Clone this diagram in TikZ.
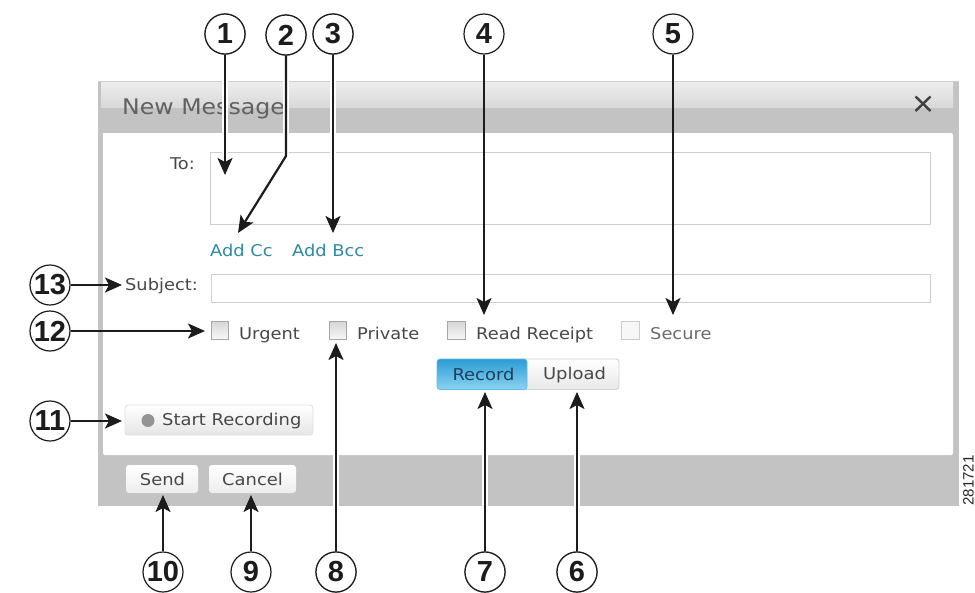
\documentclass[tikz,border=0pt]{standalone}
\usepackage{fontspec}
\setmainfont{DejaVu Sans}[FakeStretch=1.1]
\newfontfamily\numfont{Liberation Sans}
\usetikzlibrary{arrows.meta}
\definecolor{barg}{HTML}{C3C3C3}
\definecolor{txt}{HTML}{484848}
\definecolor{linkc}{HTML}{2F8AA3}
\definecolor{edgeg}{HTML}{CFCFCF}
\definecolor{ink}{HTML}{1C1C1C}
\definecolor{rectop}{HTML}{2A9CD6}
\definecolor{recbot}{HTML}{8AD4F0}
\definecolor{recink}{HTML}{1F3F5F}
\tikzset{
  callout/.style={circle,draw=ink,line width=1.2pt,fill=white,minimum size=40pt,inner sep=0pt,font=\numfont\bfseries\fontsize{29}{29}\selectfont,text=ink},
  halo/.style={draw=white,line width=6.5pt},
  pointer/.style={draw=ink,line width=2.2pt,-{Stealth[length=17pt,width=15pt,inset=4pt]}},
  label/.style={inner sep=0pt,text=txt,font=\fontsize{16.2}{18}\selectfont,anchor=base west},
  linklabel/.style={label,text=linkc},
  fieldbox/.style={draw=edgeg,line width=1pt,fill=white},
  tick/.style={draw=black!35,line width=1.2pt,top color=black!16,bottom color=black!3},
  softbtn/.style={draw=black!12,line width=.8pt,rounded corners=3pt,top color=white,bottom color=black!10},
  footbtn/.style={rounded corners=3pt,top color=white,bottom color=black!7},
  btnlabel/.style={inner sep=0pt,text=txt,font=\fontsize{16.3}{18}\selectfont}
}
\begin{document}
\begin{tikzpicture}[x=1pt,y=-1pt]
\useasboundingbox (0,0) rectangle (975,592);
% window
\fill[barg] (98,81) rectangle (959,506);
\draw[edgeg,line width=1pt] (98,81) -- (959,81);
\shade[top color=black!7,bottom color=black!15] (101,82) rectangle (953,107);
\fill[white,rounded corners=2pt] (103,133) rectangle (953,455);
\fill[white] (103,133) rectangle (115,140);
\node[inner sep=0pt,anchor=base west,text=black!62,font=\fontsize{21.5}{24}\selectfont] (title) at (122,114) {New Message};
\draw[black!75,line width=2.4pt] (915.5,96.5) -- (930.5,111) (930.5,96.5) -- (915.5,111);
% fields
\node[label,anchor=base east] (tolab) at (195,169) {To:};
\path[fieldbox] (210.5,152.5) rectangle (930,224);
\coordinate (tobox) at (225,175);
\node[linklabel] (addcc) at (210,256) {Add Cc};
\node[linklabel] (addbcc) at (292,256) {Add Bcc};
\coordinate (addcctip) at (238,233);
\coordinate (addbcctip) at (333,233);
\node[label,anchor=base east] (subj) at (198,290) {Subject:};
\path[fieldbox] (211,274.5) rectangle (930,302);
% checkboxes
\path[tick] (211.5,321.5) rectangle (228.5,339.5);
\coordinate (urgbox) at (205,331);
\node[label] (urg) at (239,339) {Urgent};
\path[tick] (329.5,321.5) rectangle (346.5,339.5);
\coordinate (pribox) at (336,343);
\node[label] (pri) at (357,339) {Private};
\path[tick] (447.5,321.5) rectangle (465.5,339.5);
\coordinate (readtip) at (484,315);
\node[label] (read) at (476,339) {Read Receipt};
\path[draw=black!20,line width=1pt,fill=black!3] (621.5,321.5) rectangle (639,339.5);
\coordinate (sectip) at (673,315);
\node[label,text=black!58] (sec) at (650,339) {Secure};
% record/upload
\path[draw=black!18,line width=.8pt,rounded corners=3pt,top color=white,bottom color=black!9] (520,359) rectangle (619,389.5);
\path[draw=rectop!70,line width=.8pt,rounded corners=3pt,top color=rectop,bottom color=recbot] (437,359) rectangle (527,389.5);
\node[btnlabel,text=recink] (rec) at (483.5,374.5) {Record};
\node[btnlabel] (upl) at (574.5,374.5) {Upload};
\coordinate (rectip) at (485,392);
\coordinate (upltip) at (577,392);
% start recording
\path[softbtn] (125,405) rectangle (313,435);
\fill[black!42] (148,420.5) circle (6.5pt);
\node[btnlabel,anchor=west] (start) at (162,420.5) {Start Recording};
\coordinate (starttip) at (122,421);
% footer buttons
\path[footbtn] (126,465) rectangle (198,493);
\path[footbtn] (209,465) rectangle (296,493);
\node[btnlabel] (send) at (162.5,479.5) {Send};
\node[btnlabel] (cancel) at (252.5,479.5) {Cancel};
\coordinate (sendtip) at (163,495);
\coordinate (canceltip) at (251,495);
\coordinate (subjtip) at (122,285);
\coordinate (bend) at (286,156);
\node[inner sep=0pt,rotate=90,text=black!85,font=\numfont\fontsize{15}{15}\selectfont] (code) at (968.5,480.5) {281721};
% callouts
\node[callout] (c1) at (225,34) {1};
\node[callout] (c2) at (286,35) {2};
\node[callout] (c3) at (333,34) {3};
\node[callout] (c4) at (484,34) {4};
\node[callout] (c5) at (673,34) {5};
\node[callout] (c6) at (577,572) {6};
\node[callout] (c7) at (485,572) {7};
\node[callout] (c8) at (336,572) {8};
\node[callout] (c9) at (251,572) {9};
\node[callout] (c10) at (163,572) {10};
\node[callout] (c11) at (50,421) {11};
\node[callout] (c12) at (50,331) {12};
\node[callout] (c13) at (50,285) {13};
% halos
\foreach \a/\b in {c1/tobox,c2/bend,c3/addbcctip,c7/rectip,c6/upltip,c8/pribox}
  \path[halo] (\a) -- (\b);
\node[callout] at (c1) {1};
\node[callout] at (c2) {2};
\node[callout] at (c3) {3};
\node[callout] at (c6) {6};
\node[callout] at (c7) {7};
\node[callout] at (c8) {8};
% arrows
\path[pointer] (c1) -- (tobox);
\path[pointer] (c2) -- (bend) -- (addcctip);
\path[pointer] (c3) -- (addbcctip);
\path[pointer] (c4) -- (readtip);
\path[pointer] (c5) -- (sectip);
\path[pointer] (c6) -- (upltip);
\path[pointer] (c7) -- (rectip);
\path[pointer] (c8) -- (pribox);
\path[pointer] (c9) -- (canceltip);
\path[pointer] (c10) -- (sendtip);
\path[pointer] (c11) -- (starttip);
\path[pointer] (c12) -- (urgbox);
\path[pointer] (c13) -- (subjtip);
\end{tikzpicture}
\end{document}
